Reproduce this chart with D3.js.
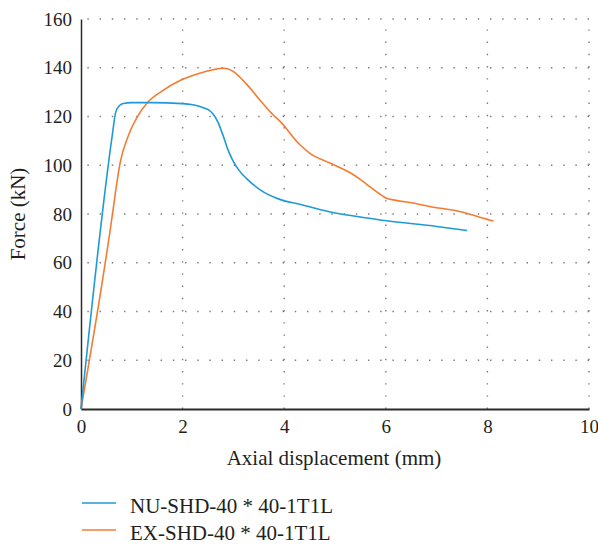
<!DOCTYPE html>
<html>
<head>
<meta charset="utf-8">
<script src="https://cdn.jsdelivr.net/npm/d3@7"></script>
<style>
  html, body { margin: 0; padding: 0; background: #fff; }
  svg text { font-family: "Liberation Serif", "DejaVu Serif", serif !important; fill: #231f20; }
</style>
</head>
<body>
<div id="chart"></div>
<script>
// force-displacement curves (mm, kN)
const nuDisp  = [0, 0.62, 0.68, 0.75, 0.83, 1.0, 1.4, 2.0, 2.2, 2.41, 2.52, 2.6, 2.7, 2.8, 2.9, 3.0, 3.1, 3.26, 3.52, 3.91, 4.3, 5.0, 5.5, 5.98, 7.0, 7.6];
const nuForce = [0, 113, 121.5, 124.3, 125.3, 125.7, 125.7, 125.3, 124.8, 123.6, 122.6, 121.0, 117.5, 112.0, 106.0, 101.5, 98.2, 94.5, 90.0, 86.0, 84.0, 80.4, 78.8, 77.3, 74.9, 73.2];

const exDisp  = [0, 0.62, 0.7, 0.77, 0.93, 1.1, 1.3, 1.6, 1.95, 2.3, 2.6, 2.8, 2.9, 3.0, 3.25, 3.52, 3.78, 3.91, 4.31, 4.5, 4.9, 5.29, 5.49, 5.7, 5.88, 6.0, 6.2, 6.5, 6.86, 7.5, 7.98, 8.12];
const exForce = [0, 80, 92, 101, 112, 119.5, 125.5, 130.5, 134.8, 137.5, 139.2, 139.8, 139.5, 138.4, 133.5, 126.8, 120.7, 118.2, 108.4, 105.0, 100.9, 97.0, 94.3, 91.0, 88.2, 86.6, 85.6, 84.6, 83.1, 80.8, 77.9, 77.1];

const seriesNames = ["NU-SHD-40 * 40-1T1L", "EX-SHD-40 * 40-1T1L"];
const xTicks = [0, 2, 4, 6, 8, 10];
const yTicks = [0, 20, 40, 60, 80, 100, 120, 140, 160];

const width = 598, height = 545;
const margin = { left: 81, top: 19, right: 9, bottom: 136 };

const svg = d3.select("#chart").append("svg")
  .attr("width", width)
  .attr("height", height)
  .style("display", "block");

const x = d3.scaleLinear().domain([0, 10]).range([margin.left, width - margin.right]);
const y = d3.scaleLinear().domain([0, 160]).range([height - margin.bottom, margin.top]);

const colors = ["#1e9ad8", "#f57b31"];

// dotted grid
const grid = svg.append("g")
  .attr("stroke", "#7a7a7a")
  .attr("stroke-width", 1.4)
  .attr("stroke-dasharray", "1.4,10.8");

grid.selectAll("line.h")
  .data(yTicks.filter(d => d > 0))
  .join("line")
  .attr("class", "h")
  .attr("x1", x(10)).attr("x2", x(0))
  .attr("y1", d => y(d)).attr("y2", d => y(d));

grid.selectAll("line.v")
  .data(xTicks.filter(d => d > 0))
  .join("line")
  .attr("class", "v")
  .attr("x1", d => x(d)).attr("x2", d => x(d))
  .attr("y1", y(0)).attr("y2", y(160));

// axes
const xAxis = svg.append("g")
  .attr("transform", `translate(0,${y(0)})`)
  .call(d3.axisBottom(x).tickValues(xTicks).tickSize(0).tickPadding(11));
xAxis.select(".domain").attr("stroke", "#2b2b2b").attr("stroke-width", 2);

const yAxis = svg.append("g")
  .attr("transform", `translate(${x(0)},0)`)
  .call(d3.axisLeft(y).tickValues(yTicks).tickSize(0).tickPadding(9));
yAxis.select(".domain").attr("stroke", "#2b2b2b").attr("stroke-width", 1.5);

svg.selectAll(".tick text").attr("font-size", 19);

svg.append("text")
  .attr("x", (x(0) + x(10)) / 2 - 1)
  .attr("y", 465)
  .attr("text-anchor", "middle")
  .attr("font-size", 21)
  .text("Axial displacement (mm)");

svg.append("text")
  .attr("transform", `translate(25,${(y(0) + y(160)) / 2}) rotate(-90)`)
  .attr("text-anchor", "middle")
  .attr("font-size", 21)
  .text("Force (kN)");

// curves
const line = d3.line()
  .x(d => x(d[0]))
  .y(d => y(d[1]))
  .curve(d3.curveMonotoneX);

const series = [
  d3.zip(nuDisp, nuForce),
  d3.zip(exDisp, exForce)
];

// orange underneath blue at the crossing
svg.append("g").selectAll("path")
  .data([1, 0])
  .join("path")
  .attr("d", i => line(series[i]))
  .attr("fill", "none")
  .attr("stroke", i => colors[i])
  .attr("stroke-width", 1.6);

// legend
const legend = svg.append("g");
seriesNames.forEach((name, i) => {
  const ly = 503 + i * 27;
  legend.append("line")
    .attr("x1", 82).attr("x2", 116)
    .attr("y1", ly).attr("y2", ly)
    .attr("stroke", colors[i])
    .attr("stroke-width", 1.6);
  legend.append("text")
    .attr("x", 130)
    .attr("y", ly + 10)
    .attr("font-size", 21)
    .text(name);
});
</script>
</body>
</html>
